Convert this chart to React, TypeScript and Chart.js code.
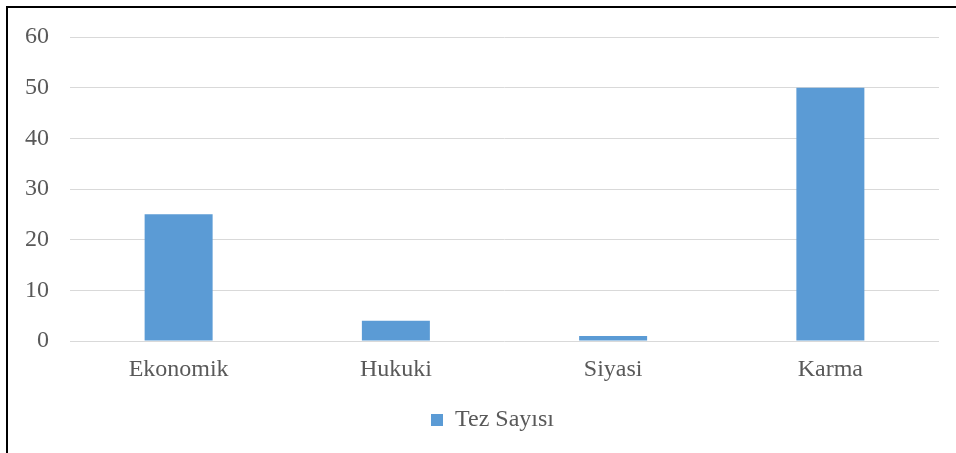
import React, { useEffect, useRef } from "react";
import { Chart, registerables } from "chart.js";

Chart.register(...registerables);

const categories = ["Ekonomik", "Hukuki", "Siyasi", "Karma"];
const seriesName = "Tez Sayısı";
const tezSayisi = [25, 4, 1, 50];
const yTicks = [0, 10, 20, 30, 40, 50, 60];

const FONT = "'Liberation Serif', 'Times New Roman', serif";
const TEXT = "#595959";

const legendShift = {
  id: "legendShift",
  afterLayout(chart: any) {
    const lg = chart.legend;
    if (lg) {
      lg.left += 23;
      lg.right += 23;
    }
  },
};

export default function App() {
  const ref = useRef<HTMLCanvasElement | null>(null);
  useEffect(() => {
    if (!ref.current) return;
    const chart = new Chart(ref.current, {
      type: "bar",
      data: {
        labels: categories,
        datasets: [
          {
            label: seriesName,
            data: tezSayisi,
            backgroundColor: "#5B9BD5",
            borderWidth: 0,
            categoryPercentage: 1,
            barPercentage: 0.313,
          },
        ],
      },
      plugins: [legendShift],
      options: {
        responsive: false,
        animation: false,
        devicePixelRatio: 1,
        layout: { padding: { left: 0, right: 17, top: 37, bottom: 11 } },
        plugins: {
          tooltip: { enabled: false },
          legend: {
            position: "bottom",
            labels: {
              boxWidth: 12,
              boxHeight: 12,
              padding: 10,
              color: TEXT,
              font: { family: FONT, size: 24 },
            },
          },
        },
        scales: {
          x: {
            grid: { display: false, drawTicks: false },
            border: { display: false },
            ticks: { color: TEXT, font: { family: FONT, size: 24 }, padding: 14, maxRotation: 0 },
            afterFit: (s: any) => {
              s.height = 57;
            },
          },
          y: {
            min: yTicks[0],
            max: yTicks[yTicks.length - 1],
            grid: { color: "#D9D9D9", lineWidth: 1, drawTicks: false },
            border: { display: false },
            ticks: {
              stepSize: 10,
              color: TEXT,
              font: { family: FONT, size: 24 },
              padding: 21,
            },
            afterFit: (s: any) => {
              s.width = 70;
            },
          },
        },
      },
    });
    return () => chart.destroy();
  }, []);
  return (
    <div style={{ position: "absolute", left: 0, top: 0, width: 956, height: 453, background: "#fff", overflow: "hidden" }}>
      <canvas ref={ref} width={956} height={453} style={{ position: "absolute", left: 0, top: 0 }} />
      <div
        style={{
          position: "absolute",
          left: 6,
          top: 6,
          width: 960,
          height: 460,
          borderLeft: "2px solid #000",
          borderTop: "2px solid #000",
          pointerEvents: "none",
        }}
      />
    </div>
  );
}
